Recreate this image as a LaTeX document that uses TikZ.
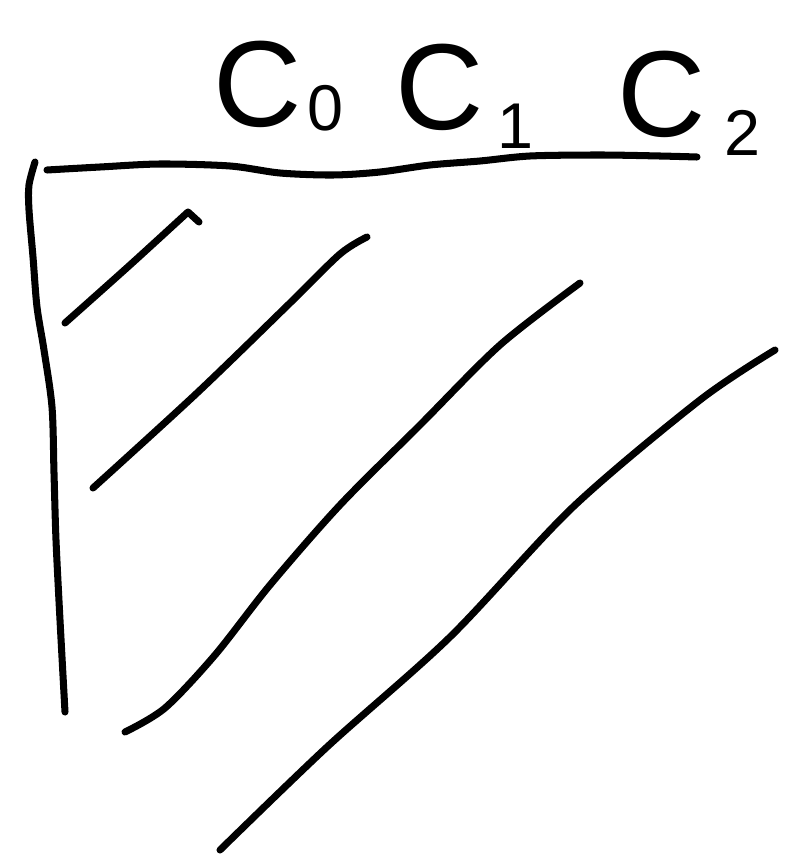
\documentclass[tikz,border=0pt]{standalone}
\usepackage{fontspec}
\setmainfont{Liberation Sans}
\usetikzlibrary{positioning}

\begin{document}
\begin{tikzpicture}[
    x=0.025cm, y=-0.025cm,
    pen/.style={line width=5pt, line cap=round, line join=round, black},
    big/.style={inner sep=0pt, font=\fontsize{87}{87}\selectfont},
    sub/.style={inner sep=0pt, font=\fontsize{46}{46}\selectfont},
]
\useasboundingbox (0,0) rectangle (794,854);
% labels
\node[big] (c0) at (258,84) {C};
\node[sub] (s0) at (325,108) {0};
\node[big] (c1) at (440,87) {C};
\node[sub] (s1) at (515,126) {1};
\node[big] (c2) at (662,94) {C};
\node[sub] (s2) at (742,133) {2};
% axes
\draw[pen] plot[smooth] coordinates {(47,170) (100,167) (160,164) (230,166) (280,173) (333,175) (380,172) (430,165) (480,161) (530,156) (600,155) (660,156) (697,157)};
\draw[pen] plot[smooth] coordinates {(35,162) (29,185) (29,210) (33,257) (37,307) (44,350) (52,407) (54,473) (56,540) (60,620) (65,712)};
% hatching
\draw[pen] plot[smooth] coordinates {(65,323) (130,265) (188,212)} -- (199,222);
\draw[pen] plot[smooth] coordinates {(93,488) (197,393) (290,303) (340,254) (367,237)};
\draw[pen] plot[smooth] coordinates {(125,732) (165,708) (215,655) (270,585) (340,505) (420,425) (500,345) (580,283)};
\draw[pen] plot[smooth] coordinates {(220,850) (327,747) (450,637) (573,507) (700,400) (775,350)};
\end{tikzpicture}
\end{document}
